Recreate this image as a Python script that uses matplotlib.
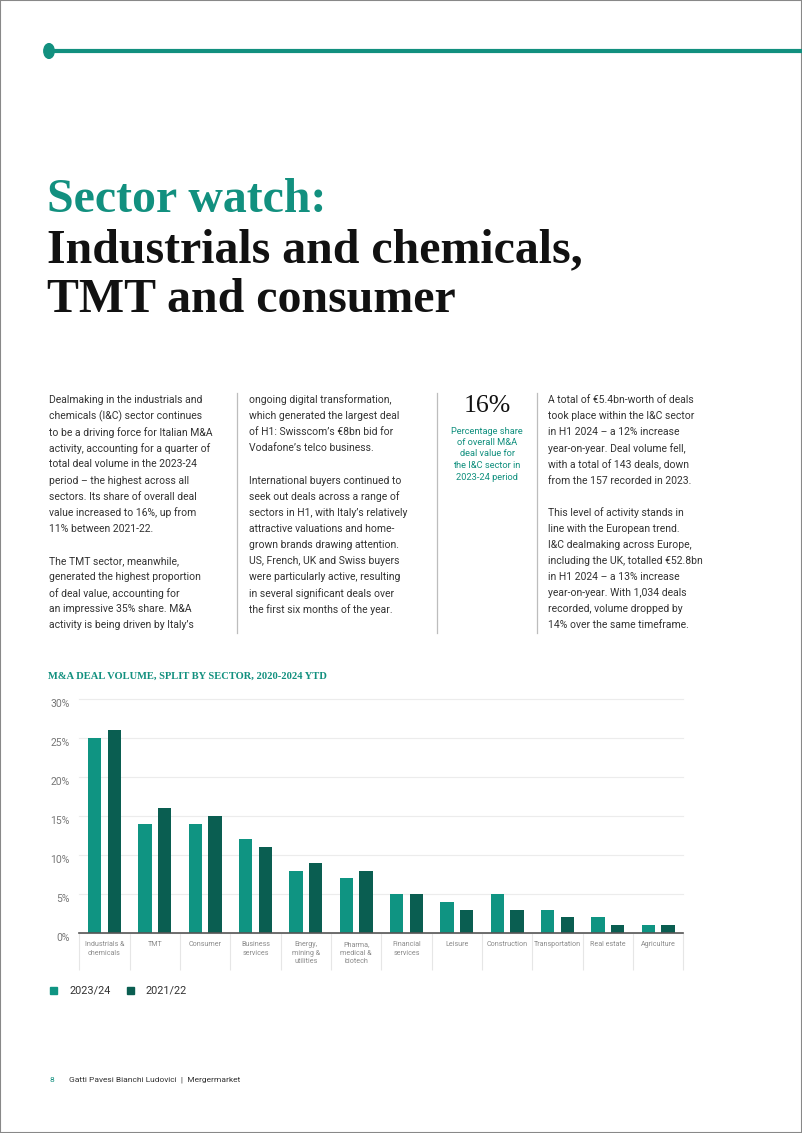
import matplotlib
matplotlib.use("Agg")
import matplotlib.pyplot as plt
from matplotlib.patches import Rectangle, Circle
from matplotlib.lines import Line2D

# ---------------- data ----------------
sectors = ["Industrials &\nchemicals", "TMT", "Consumer", "Business\nservices",
           "Energy,\nmining &\nutilities", "Pharma,\nmedical &\nbiotech", "Financial\nservices",
           "Leisure", "Construction", "Transportation", "Real estate", "Agriculture"]
share_2023_24 = [25, 14, 14, 12, 8, 7, 5, 4, 5, 3, 2, 1]
share_2021_22 = [26, 16, 15, 11, 9, 8, 5, 3, 3, 2, 1, 1]
series_labels = ["2023/24", "2021/22"]
y_ticks = [0, 5, 10, 15, 20, 25, 30]
y_tick_labels = ["0%", "5%", "10%", "15%", "20%", "25%", "30%"]

title_lines = ["Sector watch:", "Industrials and chemicals,", "TMT and consumer"]
col1 = ["Dealmaking in the industrials and",
        "chemicals (I&C) sector continues",
        "to be a driving force for Italian M&A",
        "activity, accounting for a quarter of",
        "total deal volume in the 2023-24",
        "period \u2013 the highest across all",
        "sectors. Its share of overall deal",
        "value increased to 16%, up from",
        "11% between 2021-22.",
        "",
        "The TMT sector, meanwhile,",
        "generated the highest proportion",
        "of deal value, accounting for",
        "an impressive 35% share. M&A",
        "activity is being driven by Italy\u2019s"]
col2 = ["ongoing digital transformation,",
        "which generated the largest deal",
        "of H1: Swisscom\u2019s \u20ac8bn bid for",
        "Vodafone\u2019s telco business.",
        "",
        "International buyers continued to",
        "seek out deals across a range of",
        "sectors in H1, with Italy\u2019s relatively",
        "attractive valuations and home-",
        "grown brands drawing attention.",
        "US, French, UK and Swiss buyers",
        "were particularly active, resulting",
        "in several significant deals over",
        "the first six months of the year."]
col4 = ["A total of \u20ac5.4bn-worth of deals",
        "took place within the I&C sector",
        "in H1 2024 \u2013 a 12% increase",
        "year-on-year. Deal volume fell,",
        "with a total of 143 deals, down",
        "from the 157 recorded in 2023.",
        "",
        "This level of activity stands in",
        "line with the European trend.",
        "I&C dealmaking across Europe,",
        "including the UK, totalled \u20ac52.8bn",
        "in H1 2024 \u2013 a 13% increase",
        "year-on-year. With 1,034 deals",
        "recorded, volume dropped by",
        "14% over the same timeframe."]
stat_value = "16%"
stat_caption = ["Percentage share", "of overall M&A", "deal value for",
                "the I&C sector in", "2023-24 period"]
chart_title = "M&A DEAL VOLUME, SPLIT BY SECTOR, 2020-2024 YTD"
footer_page = "8"
footer_text = "Gatti Pavesi Bianchi Ludovici  |  Mergermarket"

# ---------------- styling ----------------
TEAL = "#12907f"
LIGHT = "#0f9482"
DARK = "#0a5e51"
BODY = "#333333"
SANS = ["Roboto", "DejaVu Sans"]
SERIF = ["Liberation Serif", "DejaVu Serif"]

W, H = 802, 1133
fig = plt.figure(figsize=(W / 100, H / 100), dpi=100)
fig.patch.set_facecolor("white")


def fx(x):
    return x / W


def fy(y):
    return 1 - y / H


def put(x, y, s, **kw):
    fig.text(fx(x), fy(y), s, **kw)


# page border
fig.add_artist(Rectangle((0, 0), 1, 1, transform=fig.transFigure, fill=False,
                         edgecolor="#888888", linewidth=1.5))

# top rule with dot
fig.add_artist(Line2D([fx(49), 1], [fy(51), fy(51)], transform=fig.transFigure,
                      color=TEAL, linewidth=3, solid_capstyle="butt"))
fig.add_artist(Circle((fx(49), fy(51)), 5.2 / W, transform=fig.transFigure,
                      color=TEAL))

# title
title_base = [212, 262, 312]
for i, (line, yb) in enumerate(zip(title_lines, title_base)):
    put(47, yb, line, fontsize=34.5, family=SERIF, fontweight="bold",
        color=TEAL if i == 0 else "#111111", va="baseline", ha="left")

# body columns
LS = 16.1
BFS = 7.5
for i, line in enumerate(col1):
    if line:
        put(49, 400 + i * LS, line, fontsize=BFS, family=SANS, color=BODY, va="center")
for i, line in enumerate(col2):
    if line:
        put(249, 400 + i * LS, line, fontsize=BFS, family=SANS, color=BODY, va="center")
for i, line in enumerate(col4):
    if line:
        put(548, 400 + i * LS, line, fontsize=BFS, family=SANS, color=BODY, va="center")

# column separators
for xs in (237, 437, 537):
    fig.add_artist(Line2D([fx(xs), fx(xs)], [fy(393), fy(633)], transform=fig.transFigure,
                          color="#bdbdbd", linewidth=0.9))

# stat block
put(487, 406, stat_value, fontsize=18.5, family=SERIF, color="#111111", ha="center", va="center")
for i, line in enumerate(stat_caption):
    put(487, 431 + i * 11.5, line, fontsize=6.7, family=SANS, color=TEAL, ha="center", va="center")

# chart title
put(48, 676, chart_title, fontsize=7.6, family=SERIF, fontweight="bold", color=TEAL, va="center")

# ---------------- chart ----------------
ax_left, ax_right, ax_top, ax_bottom = 79.3, 683.3, 699, 933
ax = fig.add_axes([fx(ax_left), fy(ax_bottom), (ax_right - ax_left) / W, (ax_bottom - ax_top) / H])
n = len(sectors)
xs = list(range(n))
bw = 0.265
off = 0.194
ax.bar([x - off for x in xs], share_2023_24, width=bw, color=LIGHT, zorder=3, label=series_labels[0])
ax.bar([x + off for x in xs], share_2021_22, width=bw, color=DARK, zorder=3, label=series_labels[1])
ax.set_xlim(-0.5, n - 0.5)
ax.set_ylim(0, 30)
ax.set_yticks(y_ticks)
ax.set_yticklabels(y_tick_labels)
for s in ("top", "right", "left"):
    ax.spines[s].set_visible(False)
ax.spines["bottom"].set_color("#555555")
ax.spines["bottom"].set_linewidth(1.2)
ax.spines["bottom"].set_zorder(4)
ax.yaxis.grid(True, color="#ececec", linewidth=0.8, zorder=0)
for gl in ax.get_ygridlines():
    gl.set_clip_on(False)
ax.tick_params(axis="y", length=0, pad=7, labelsize=7.5, labelcolor="#777777")
for lab in ax.get_yticklabels():
    lab.set_family(SANS)
    lab.set_verticalalignment("top")
    lab.set_y(lab.get_position()[1])
ax.set_xticks(xs)
ax.set_xticklabels(sectors, fontsize=5.1, color="#8a8a8a", family=SANS, linespacing=1.3)
ax.tick_params(axis="x", length=0, pad=6)
ax.set_facecolor("none")
# nudge y labels slightly below the gridlines, as in the reference
import matplotlib.transforms as mtrans
shift = mtrans.ScaledTranslation(0, -5 / 100, fig.dpi_scale_trans)
for lab in ax.get_yticklabels():
    lab.set_verticalalignment("center")
    lab.set_transform(lab.get_transform() + shift)

# category dividers below axis
div_y = -(970 - ax_bottom) / ((ax_bottom - ax_top) / 30)
ax.vlines([x - 0.5 for x in range(n + 1)], div_y, 0, colors="#e6e6e6", linewidth=0.8,
          clip_on=False, zorder=1)

# legend
for (sx, tx, col, lab) in [(50, 69, LIGHT, series_labels[0]), (127, 146, DARK, series_labels[1])]:
    fig.add_artist(Rectangle((fx(sx), fy(994)), 7 / W, 7 / H, transform=fig.transFigure,
                             color=col))
    put(tx, 991, lab, fontsize=7.8, family=SANS, color="#333333", va="center")

# footer
put(50, 1080, footer_page, fontsize=6.0, family=SANS, color=TEAL, va="center")
put(69, 1080, footer_text, fontsize=6.0, family=SANS, color="#333333", va="center")

fig.savefig("out.png", dpi=100, facecolor="white")
